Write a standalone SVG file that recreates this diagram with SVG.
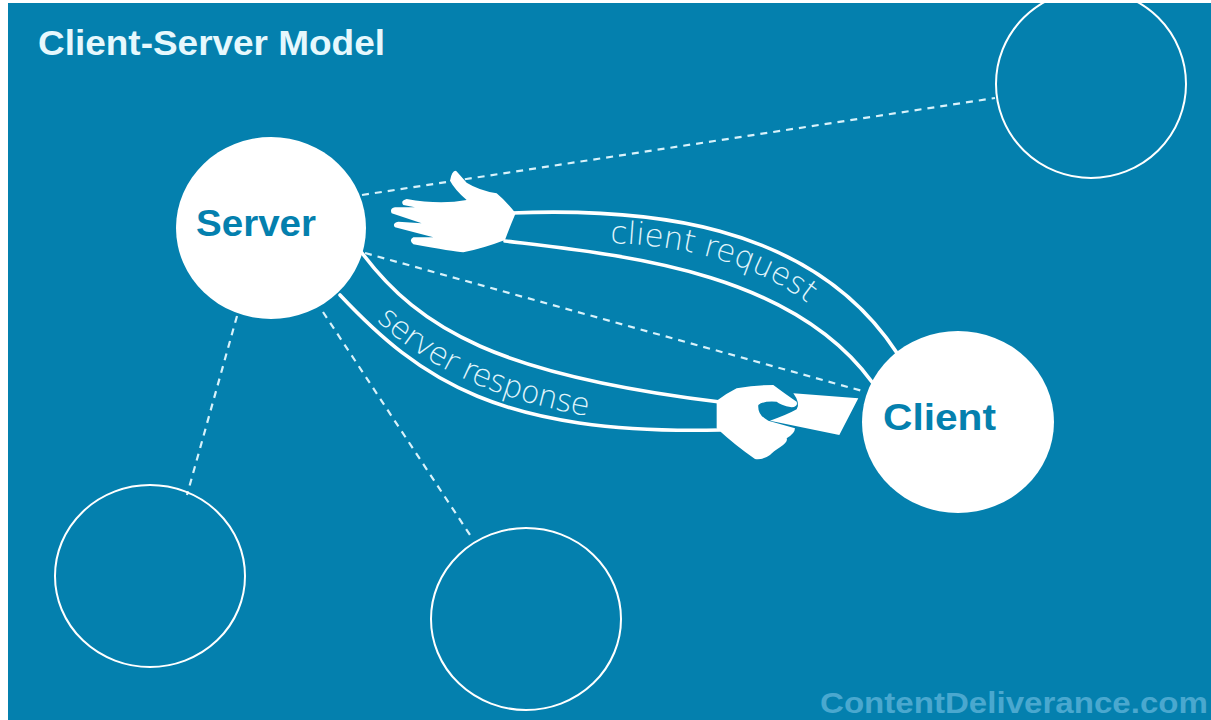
<svg xmlns="http://www.w3.org/2000/svg" width="1211" height="720" viewBox="0 0 1211 720">
<style>
.t{font-family:"Liberation Sans",Arial,sans-serif}
.node{font-weight:bold;font-size:37px;fill:#0480ae}
.solid{fill:#fff}
.ring{fill:none;stroke:#fff;stroke-width:2}
.dash{fill:none;stroke:#d8f2fb;stroke-width:2.2;stroke-dasharray:7 6}
.band{fill:none;stroke:#fff;stroke-width:3.6;stroke-linecap:round}
.lab{font-size:31px;fill:#e2f6fc;font-family:"DejaVu Sans","Liberation Sans",sans-serif;font-weight:200}
</style>
<defs>
<path id="reqPath" d="M610 243C690 245 772 268 822 316"/>
<path id="resPath" d="M376 320C430 370 500 402 600 418"/>
</defs>
<rect width="1211" height="720" fill="#fff"/>
<rect x="8" y="3" width="1203" height="717" fill="#0480ae"/>
<text id="title" class="t" x="38" y="55" font-size="35" font-weight="bold" fill="#e6f8fd" textLength="347" lengthAdjust="spacingAndGlyphs">Client-Server Model</text>
<g id="connectors">
<path class="dash" d="M362 195L995 98"/>
<path class="dash" d="M365 253L866 392"/>
<path class="dash" d="M237 316L187 495"/>
<path class="dash" d="M323 312L472 538"/>
<path class="band" d="M512 213C640 208 810 220 897 353"/>
<path class="band" d="M505 241C620 255 790 270 872 382"/>
<path class="band" d="M362 253C420 330 500 375 720 402"/>
<path class="band" d="M340 295C420 380 500 435 720 430"/>
</g>
<g id="request-hand"><path class="solid" transform="translate(350 150) scale(.3333)" d="M300 92Q305 62 318 62Q330 75 350 98Q385 120 440 130Q470 155 497 190Q480 230 465 270Q400 295 340 307Q310 305 190 283Q175 270 190 262L250 262L135 232Q125 220 145 215L215 220L125 190Q118 175 135 172L195 172L160 165Q150 152 170 147Q270 165 350 150Q315 120 300 92Z"/></g>
<g id="response-hand" transform="translate(680 360) scale(.3333)">
<path class="solid" d="M340 100L535 115L478 225L270 182Q320 165 350 148Q362 130 340 100Z"/>
<path class="solid" d="M110 122Q140 100 170 85Q230 75 280 75Q320 105 350 125Q355 140 335 142Q300 135 290 125Q250 122 235 135Q232 165 265 182L345 205Q345 220 320 235Q325 245 300 262Q280 275 270 285Q250 300 225 297Q170 260 110 205Z"/>
</g>
<g id="server"><ellipse class="solid" cx="271" cy="228" rx="95" ry="91"/><text class="t node" x="196" y="236" textLength="120" lengthAdjust="spacingAndGlyphs">Server</text></g>
<g id="client"><ellipse class="solid" cx="958" cy="422" rx="96" ry="91"/><text class="t node" x="883" y="430" textLength="113" lengthAdjust="spacingAndGlyphs">Client</text></g>
<g id="peer-top-right"><ellipse class="ring" cx="1091" cy="84" rx="95" ry="94"/></g>
<g id="peer-bottom-left"><ellipse class="ring" cx="150" cy="576" rx="95" ry="91"/></g>
<g id="peer-bottom-center"><ellipse class="ring" cx="526" cy="619" rx="95" ry="91"/></g>
<text class="lab"><textPath href="#reqPath" textLength="210" lengthAdjust="spacing">client request</textPath></text>
<text class="lab"><textPath href="#resPath" textLength="236" lengthAdjust="spacing">server response</textPath></text>
<text id="watermark" class="t" x="820" y="713" font-size="30" font-weight="bold" fill="#4aa8cf" textLength="388" lengthAdjust="spacingAndGlyphs">ContentDeliverance.com</text>
</svg>
